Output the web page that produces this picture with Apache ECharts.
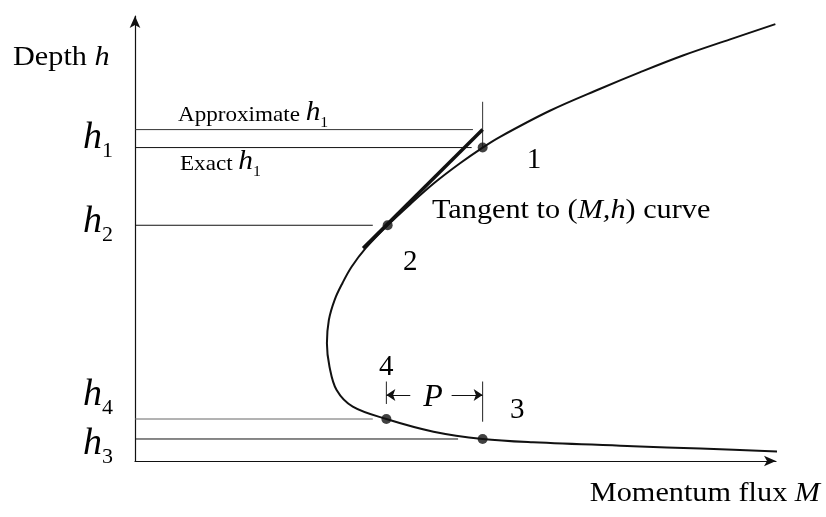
<!DOCTYPE html>
<html>
<head>
<meta charset="utf-8">
<script src="https://cdn.jsdelivr.net/npm/echarts@6/dist/echarts.min.js"></script>
<style>
  html, body { margin: 0; padding: 0; background: #fff; }
  #chart { width: 826px; height: 517px; }
</style>
</head>
<body>
<div id="chart"></div>
<script>
// Momentum flux M against depth h (arbitrary units), traced from the
// supercritical tail on the right, round the nose, up the subcritical branch.
const curveM = [100.6, 87.5, 77.1, 61.6, 53.8, 46.2, 38.9, 33.7, 31.2, 30.1, 29.7, 30.0, 30.9, 32.1, 33.5, 35.7, 39.1, 42.6, 46.4, 50.3, 53.8, 56.5, 64.2, 72.0, 78.2, 84.8, 92.1, 99.1];
const curveH = [2.07, 2.76, 3.30, 4.16, 4.90, 6.53, 9.35, 12.1, 15.8, 21.0, 26.2, 31.4, 35.9, 39.6, 43.2, 47.4, 52.5, 57.2, 62.0, 66.3, 69.8, 72.2, 78.0, 82.9, 86.6, 90.3, 93.9, 97.3];

// Numbered states on the curve
const pointNames = ['1', '2', '3', '4'];
const pointM = [53.8, 39.1, 53.8, 38.9];
const pointH = [69.8, 52.5, 4.9, 9.35];

// Tangent at state 2, run out to M of state 1
const tangentM = [35.3, 53.8];
const tangentH = [47.4, 73.8];

// Depth levels drawn from the h axis
const levelNames = ['Approximate h1', 'Exact h1', 'h2', 'h4', 'h3'];
const levelH = [73.8, 69.8, 52.5, 9.35, 4.9];
const levelEndM = [52.3, 52.1, 36.8, 36.8, 50.0];

// Vertical guide above state 1
const guideM = 53.8;
const guideH = [80.0, 69.8];

// Dimension P between states 4 and 3
const pTickM = [38.9, 53.8];
const pTickTopH = 17.7;
const pTickBottomH = [12.7, 8.75];
const pArrowH = 14.7;
const pArrowFromM = [42.6, 49.0];

const M_MAX = 99.2;
const H_MAX = 99.1;
const INK = '#111';
const SERIF = '"Liberation Serif", "Times New Roman", Times, serif';

function seg(coords, color, width, z) {
  return {
    type: 'line', data: coords, symbol: 'none', silent: true, clip: false,
    lineStyle: { color: color, width: width }, z: z || 2
  };
}

const series = [];
levelNames.forEach(function (name, i) {
  series.push(Object.assign(seg([[0, levelH[i]], [levelEndM[i], levelH[i]]],
    i === 3 ? '#666' : (i === 0 ? '#333' : INK), 1), { name: name }));
});
series.push(seg([[guideM, guideH[0]], [guideM, guideH[1]]], '#333', 1));
pTickM.forEach(function (m, i) {
  series.push(seg([[m, pTickTopH], [m, pTickBottomH[i]]], '#222', 1));
});
series.push({
  type: 'lines', coordinateSystem: 'cartesian2d', silent: true, z: 3,
  symbol: ['none', 'arrow'], symbolSize: 9,
  lineStyle: { color: INK, width: 1.2, opacity: 1 },
  data: pArrowFromM.map(function (m, i) {
    return { coords: [[m, pArrowH], [pTickM[i], pArrowH]] };
  })
});
series.push(seg(tangentM.map(function (m, i) { return [m, tangentH[i]]; }), INK, 3.5, 4));
series.push({
  type: 'line', name: 'M(h)', smooth: 0.35, symbol: 'none', clip: false, silent: true, z: 5,
  lineStyle: { color: INK, width: 2 },
  data: curveM.map(function (m, i) { return [m, curveH[i]]; })
});
series.push({
  type: 'scatter', symbolSize: 10, z: 6, silent: true,
  itemStyle: { color: INK },
  data: pointM.map(function (m, i) { return { name: pointNames[i], value: [m, pointH[i]] }; })
});

const axisCommon = {
  type: 'value',
  axisLine: {
    show: true, onZero: false,
    symbol: ['none', 'arrow'], symbolSize: [8, 12],
    lineStyle: { color: INK, width: 1.2 }
  },
  axisTick: { show: false },
  axisLabel: { show: false },
  splitLine: { show: false }
};

const chart = echarts.init(document.getElementById('chart'));
chart.setOption({
  animation: false,
  backgroundColor: '#fff',
  grid: { left: 135, right: 50, top: 16, bottom: 56 },
  xAxis: Object.assign({}, axisCommon, { min: 0, max: M_MAX }),
  yAxis: Object.assign({}, axisCommon, { min: 0, max: H_MAX }),
  series: series
});

// ---- text annotations laid out piece by piece on a common baseline ----
const ctx = document.createElement('canvas').getContext('2d');
function widthOf(t, size, italic) {
  ctx.font = (italic ? 'italic ' : '') + size + 'px ' + SERIF;
  return ctx.measureText(t).width;
}
// pieces: [text, fontSize, italic, baselineShift]
function phrase(x, baseline, pieces, align, sx) {
  sx = sx || 1;
  const widths = pieces.map(function (p) { return widthOf(p[0], p[1], p[2]) * sx; });
  const total = widths.reduce(function (a, b) { return a + b; }, 0);
  let cx = align === 'right' ? x - total : (align === 'center' ? x - total / 2 : x);
  return pieces.map(function (p, i) {
    const el = {
      type: 'text', x: cx, y: baseline + (p[3] || 0) - 0.3375 * p[1],
      scaleX: sx, silent: true, z: 10,
      style: {
        text: p[0], fill: '#000', fontFamily: SERIF, fontSize: p[1],
        fontStyle: p[2] ? 'italic' : 'normal', align: 'left', verticalAlign: 'middle'
      }
    };
    cx += widths[i];
    return el;
  });
}

const H = 38, SUB = 22, MAIN = 28, DIG = 29;
let texts = [];
texts = texts.concat(phrase(13, 66.7, [['Depth ', MAIN, false], ['h', MAIN, true]], 'left', 1.08));
texts = texts.concat(phrase(820, 503.3, [['Momentum flux ', MAIN, false], ['M', MAIN, true]], 'right', 1.08));
[['1', 151], ['2', 235], ['4', 408], ['3', 456.7]].forEach(function (d) {
  texts = texts.concat(phrase(83, d[1], [['h', H, true], [d[0], SUB, false, 8]], 'left', 1));
});
texts = texts.concat(phrase(178, 122.3, [['Approximate ', 22, false], ['h', 28, true], ['1', 15, false, 6]], 'left', 1.05));
texts = texts.concat(phrase(180, 171.5, [['Exact ', 22, false], ['h', 28, true], ['1', 15, false, 6]], 'left', 1.05));
texts = texts.concat(phrase(432, 220, [['Tangent to (', MAIN, false], ['M,h', MAIN, true], [') curve', MAIN, false]], 'left', 1.08));
texts = texts.concat(phrase(433, 408.3, [['P', 32, true]], 'center', 1));
const digitPos = { '1': [526.7, 170], '2': [403, 271.7], '3': [510, 420], '4': [379, 376.7] };
pointNames.forEach(function (n) {
  texts = texts.concat(phrase(digitPos[n][0], digitPos[n][1], [[n, DIG, false]], 'left', 1));
});

chart.setOption({ graphic: { elements: texts } });
</script>
</body>
</html>
